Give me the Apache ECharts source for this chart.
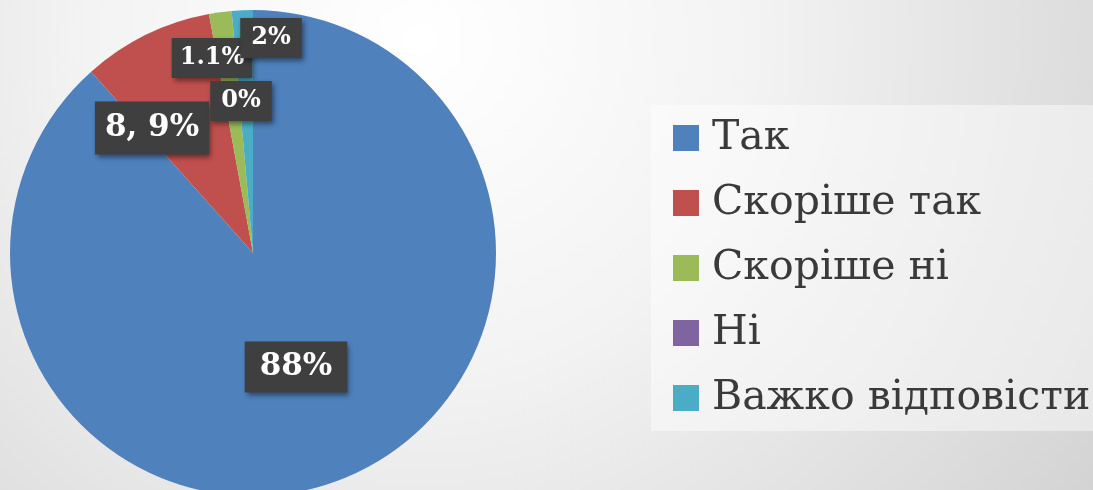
<!DOCTYPE html>
<html>
<head>
<meta charset="utf-8">
<script src="https://cdn.jsdelivr.net/npm/echarts@6/dist/echarts.min.js"></script>
<style>
html,body{margin:0;padding:0;}
#chart{width:1093px;height:490px;background:radial-gradient(circle 830px at 420px 40px,#ffffff 0%,#f3f3f3 40%,#d2d2d2 100%);}
</style>
</head>
<body>
<div id="chart"></div>
<script>
// Data
const categories = ['Так', 'Скоріше так', 'Скоріше ні', 'Ні', 'Важко відповісти'];
const values = [88.4, 8.7, 1.5, 0, 1.4];
const labelTexts = ['88%', '8, 9%', '1.1%', '0%', '2%'];

// Styles / layout (not data)
const colors = ['#4F81BD', '#C0504D', '#9BBB59', '#8064A2', '#4BACC6'];
const labelFont = [31, 31, 24, 24, 24];
const labelPad = [[10, 15], [11, 10], [8, 8], [8, 11], [8, 11]];
const labelCenters = [[296, 367], [152, 128], [212, 58], [241, 101], [271, 38]];

const chart = echarts.init(document.getElementById('chart'), null, {renderer: 'canvas'});
const serif = '"DejaVu Serif", "Liberation Serif", serif';

chart.setOption({
  backgroundColor: 'transparent',
  color: colors,
  animation: false,
  legend: {
    orient: 'vertical',
    left: 651,
    top: 105,
    padding: [8, 40, 8, 22],
    itemWidth: 26,
    itemHeight: 26,
    itemGap: 15,
    icon: 'rect',
    backgroundColor: 'rgba(255,255,255,0.45)',
    data: categories,
    textStyle: {
      fontFamily: serif,
      fontSize: 41,
      color: '#3a3a3a',
      lineHeight: 50,
      padding: [0, 0, 0, 8]
    }
  },
  series: [{
    type: 'pie',
    center: [253, 253],
    radius: 243,
    startAngle: 90,
    clockwise: true,
    avoidLabelOverlap: false,
    labelLine: {show: false},
    itemStyle: {borderWidth: 0},
    emphasis: {disabled: true},
    data: categories.map((name, i) => ({
      name: name,
      value: values[i],
      label: {
        show: true,
        position: 'inside',
        formatter: labelTexts[i],
        fontFamily: serif,
        fontWeight: 'bold',
        fontSize: labelFont[i],
        lineHeight: labelFont[i],
        color: '#ffffff',
        backgroundColor: '#3f3f3f',
        padding: labelPad[i],
        shadowColor: 'rgba(0,0,0,0.45)',
        shadowBlur: 5,
        shadowOffsetX: 2,
        shadowOffsetY: 3
      }
    })),
    labelLayout: function (params) {
      const c = labelCenters[params.dataIndex];
      return {x: c[0], y: c[1], align: 'center', verticalAlign: 'middle'};
    }
  }]
});
</script>
</body>
</html>
